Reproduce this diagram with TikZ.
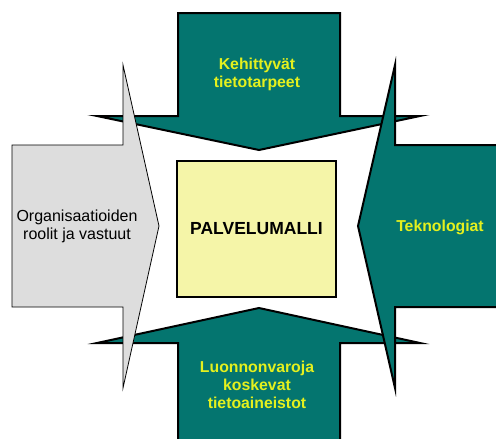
\documentclass[tikz,border=0pt]{standalone}
\usepackage{fontspec}
\setmainfont{Liberation Sans}
\definecolor{teal1}{RGB}{4,117,111}
\definecolor{yel}{RGB}{228,240,30}
\definecolor{boxfill}{RGB}{245,245,168}
\definecolor{grayfill}{RGB}{221,221,221}
\begin{document}
\begin{tikzpicture}[x=1pt,y=-1pt,
  greenarrow/.style={fill=teal1,draw=black,line width=2pt,line join=miter},
  grayarrow/.style={fill=grayfill,draw=black,line width=0.8pt,line join=miter},
  ylabel/.style={text=yel,font=\fontsize{15.8}{18}\selectfont\bfseries,align=center},
  blabel/.style={text=black,font=\fontsize{16}{18}\selectfont,align=center}]
\useasboundingbox (0,0) rectangle (496,439);
\clip (0,0) rectangle (496,439);
% top arrow
\draw[greenarrow] (178,13) -- (340,13) -- (340,116) -- (420,116) -- (259,150) -- (97,116) -- (178,116) -- cycle;
% bottom arrow
\draw[greenarrow] (178,445) -- (178,343) -- (97,343) -- (259,308) -- (420,343) -- (340,343) -- (340,445);
% right arrow
\draw[greenarrow] (505,145) -- (395,145) -- (395,65) -- (358,226) -- (395,388) -- (395,307) -- (505,307);
% left arrow
\draw[grayarrow] (12,145) -- (123,145) -- (123,65) -- (159,226) -- (123,388) -- (123,307) -- (12,307) -- cycle;
% center box
\node[draw=black,line width=2pt,fill=boxfill,minimum width=159pt,minimum height=136pt,inner sep=0pt,
  font=\fontsize{17.5}{18}\selectfont\bfseries] (box) at (256.5,229) {PALVELUMALLI};
\node[ylabel] (top) at (257,74) {Kehittyvät\\tietotarpeet};
\node[ylabel] (bot) at (257,385) {Luonnonvaroja\\koskevat\\tietoaineistot};
\node[ylabel] (right) at (440,227) {Teknologiat};
\node[blabel] (left) at (77,226) {Organisaatioiden\\roolit ja vastuut};
\end{tikzpicture}
\end{document}
